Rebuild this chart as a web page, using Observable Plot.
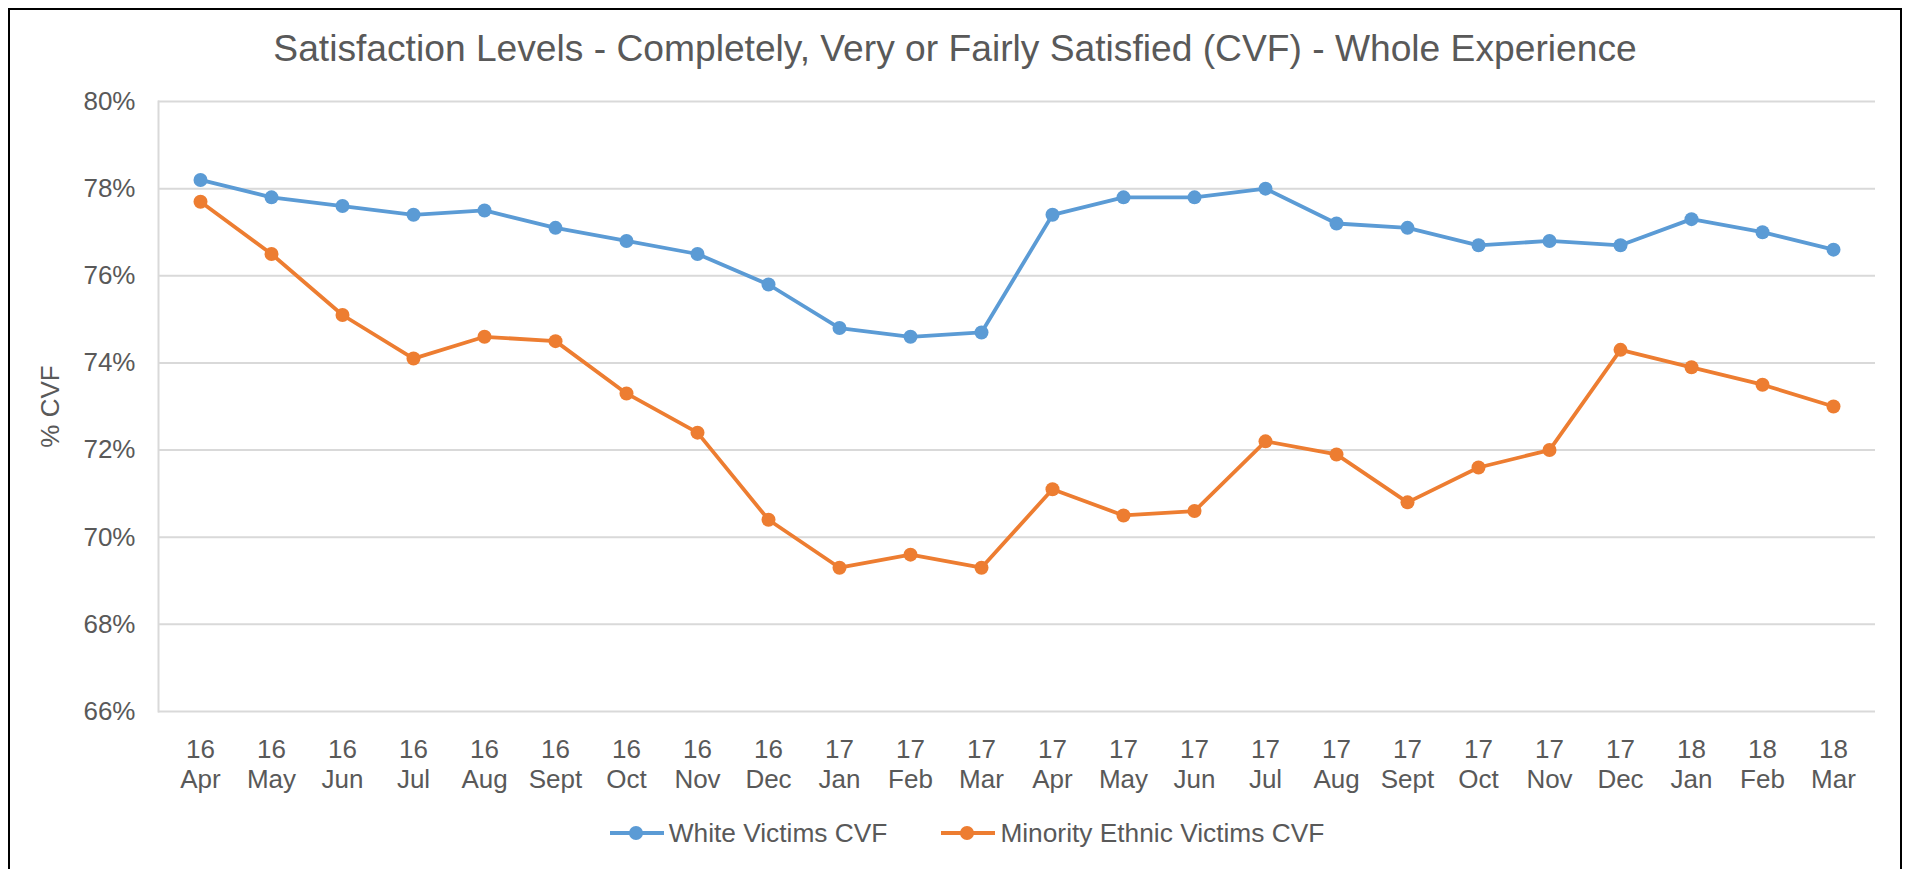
<!DOCTYPE html>
<html><head><meta charset="utf-8">
<script src="https://cdn.jsdelivr.net/npm/d3@7"></script>
<script src="https://cdn.jsdelivr.net/npm/@observablehq/plot@0.6"></script>
<style>
html,body{margin:0;padding:0;background:#fff;}
body{position:relative;width:1910px;height:869px;overflow:hidden;font-family:"Liberation Sans",Arial,sans-serif;color:#595959;}
#frame{position:absolute;left:8px;top:8px;width:1894px;height:900px;border:2px solid #000;box-sizing:border-box;}
#title{position:absolute;left:8px;width:1894px;top:30px;text-align:center;font-size:37.2px;line-height:37px;color:#595959;white-space:nowrap;}
#chart{position:absolute;left:0;top:70px;}
#legend{position:absolute;left:12px;width:1910px;top:817px;height:32px;display:flex;justify-content:center;align-items:center;font-size:26.3px;line-height:32px;color:#595959;}
.item{display:flex;align-items:center;margin:0 27px;}
.item svg{margin-right:5px;}
</style></head>
<body>
<div id="frame"></div>
<div id="title">Satisfaction Levels - Completely, Very or Fairly Satisfied (CVF) - Whole Experience</div>
<div id="chart"></div>
<div id="legend"></div>
<script>
const years = ["16","16","16","16","16","16","16","16","16","17","17","17","17","17","17","17","17","17","17","17","17","18","18","18"];
const months = ["Apr","May","Jun","Jul","Aug","Sept","Oct","Nov","Dec","Jan","Feb","Mar","Apr","May","Jun","Jul","Aug","Sept","Oct","Nov","Dec","Jan","Feb","Mar"];
const white = [78.2,77.8,77.6,77.4,77.5,77.1,76.8,76.5,75.8,74.8,74.6,74.7,77.4,77.8,77.8,78.0,77.2,77.1,76.7,76.8,76.7,77.3,77.0,76.6];
const minority = [77.7,76.5,75.1,74.1,74.6,74.5,73.3,72.4,70.4,69.3,69.6,69.3,71.1,70.5,70.6,72.2,71.9,70.8,71.6,72.0,74.3,73.9,73.5,73.0];
const seriesNames = ["White Victims CVF","Minority Ethnic Victims CVF"];
const colors = ["#5B9BD5","#ED7D31"];
const yTicks = [66,68,70,72,74,76,78,80];

const labels = years.map((y,i) => y + "\n" + months[i]);
const data = [];
labels.forEach((l,i) => {
  data.push({period:l, series:seriesNames[0], value:white[i]});
  data.push({period:l, series:seriesNames[1], value:minority[i]});
});

const plot = Plot.plot({
  width: 1910,
  height: 730,
  marginLeft: 158,
  marginRight: 35,
  marginTop: 31,
  marginBottom: 89,
  style: {fontFamily: '"Liberation Sans", Arial, sans-serif', color: "#595959", background: "transparent"},
  x: {type: "point", domain: labels, padding: 0.5},
  y: {domain: [66, 80]},
  color: {domain: seriesNames, range: colors},
  marks: [
    Plot.gridY(yTicks, {stroke: "#D9D9D9", strokeOpacity: 1, strokeWidth: 2}),
    Plot.frame({anchor: "left", stroke: "#D9D9D9", strokeOpacity: 1, strokeWidth: 2}),
    Plot.axisY(yTicks, {tickSize: 0, tickPadding: 23, fontSize: 26, fill: "#595959", tickFormat: d => d + "%", label: "% CVF", labelAnchor: "center", labelArrow: "none", labelOffset: 118}),
    Plot.axisX({tickSize: 0, tickPadding: 25.5, fontSize: 26, lineHeight: 1.154, fill: "#595959", label: null}),
    Plot.line(data, {x: "period", y: "value", z: "series", stroke: "series", strokeWidth: 3.8, strokeLinejoin: "round"}),
    Plot.dot(data, {x: "period", y: "value", fill: "series", r: 7})
  ]
});
document.getElementById("chart").appendChild(plot);

const legend = document.getElementById("legend");
seriesNames.forEach((name,i) => {
  const item = document.createElement("div");
  item.className = "item";
  item.innerHTML = `<svg width="54" height="20"><line x1="0" x2="54" y1="10" y2="10" stroke="${colors[i]}" stroke-width="3.8"/><circle cx="26" cy="10" r="7" fill="${colors[i]}"/></svg><span>${name}</span>`;
  legend.appendChild(item);
});
</script>
</body></html>
